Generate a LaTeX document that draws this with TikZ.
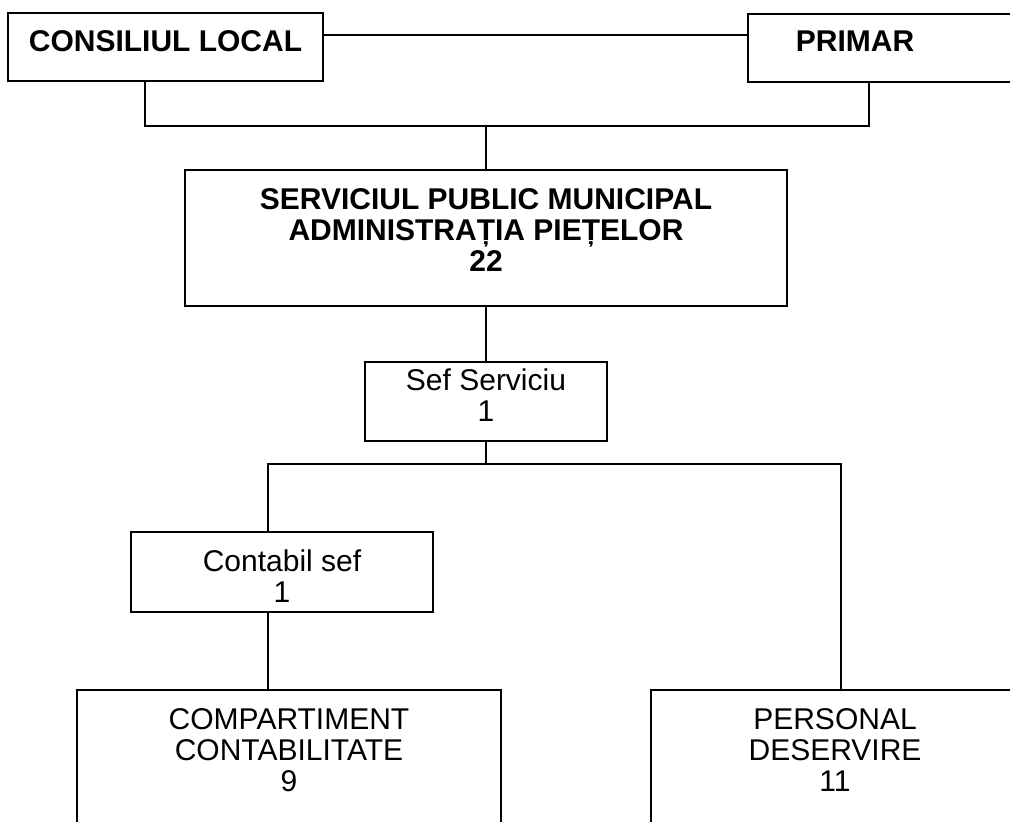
\documentclass[tikz,border=0pt]{standalone}
\usepackage{fontspec}
\setmainfont{Liberation Sans}
\usepackage{tikz}
\usetikzlibrary{positioning, calc}

\begin{document}
\begin{tikzpicture}[x=0.5pt, y=-0.5pt,
    orgbox/.style={draw, line width=0.9pt, inner sep=0pt, align=center,
        font=\fontsize{15}{15.5}\selectfont},
    link/.style={line width=0.9pt}]
    \useasboundingbox (0,0) rectangle (1010,821);
    \clip (0,0) rectangle (1010,821);

    % Top level
    \node[orgbox, minimum width=157.5pt, text height=19pt, text depth=15pt, font=\fontsize{15}{15.5}\selectfont\bfseries]
        (consiliu) at (165.5,47) {CONSILIUL LOCAL};
    \node[orgbox, anchor=north west, inner xsep=24pt, text width=95pt, align=left,
        text height=19pt, text depth=15pt, font=\fontsize{15}{15.5}\selectfont\bfseries]
        (primar) at (747,13) {PRIMAR};

    % Service (text height runs to the last line)
    \node[orgbox, minimum width=301pt, text height=50.5pt, text depth=17.5pt, font=\fontsize{15}{15.5}\selectfont\bfseries]
        (serviciu) at (486,238) {SERVICIUL PUBLIC MUNICIPAL\\ADMINISTRAȚIA PIEȚELOR\\22};
    \node[orgbox, minimum width=121pt, text height=29.5pt, text depth=10pt]
        (sef) at (486,401.5) {Sef Serviciu\\1};

    % Departments
    \node[orgbox, minimum width=151pt, text height=35pt, text depth=5pt]
        (contabil) at (282,572) {Contabil sef\\1};
    \node[orgbox, minimum width=212pt, text height=50.5pt, text depth=34.5pt]
        (compartiment) at (289,775) {COMPARTIMENT\\CONTABILITATE\\9};
    \node[orgbox, minimum width=184pt, text height=50.5pt, text depth=34.5pt]
        (personal) at (835,775) {PERSONAL\\DESERVIRE\\11};

    % Links
    \coordinate (bus1) at (486,126);
    \coordinate (bus2) at (486,464);
    \draw[link] (consiliu.east |- 0,35) -- (primar.west |- 0,35);
    \draw[link] (consiliu.south -| 145,0) |- (bus1) -| (primar.south -| 869,0);
    \draw[link] (bus1) -- (serviciu.north);
    \draw[link] (serviciu.south) -- (sef.north);
    \draw[link] (sef.south) -- (bus2);
    \draw[link] (contabil.north -| 268,0) |- (bus2) -| (personal.north -| 841,0);
    \draw[link] (contabil.south -| 268,0) -- (compartiment.north -| 268,0);
\end{tikzpicture}
\end{document}
